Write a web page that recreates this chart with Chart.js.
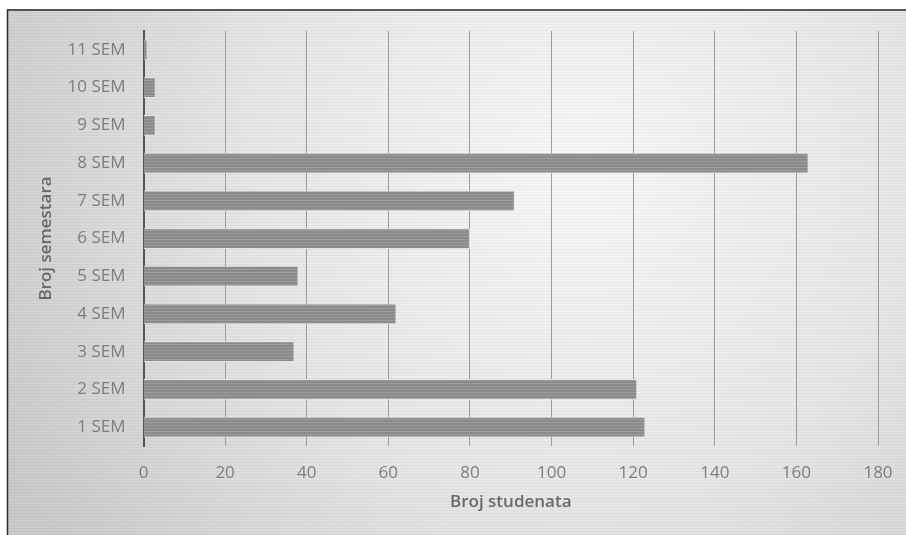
<!DOCTYPE html>
<html>
<head>
<meta charset="utf-8">
<script src="https://cdn.jsdelivr.net/npm/chart.js@4"></script>
<style>
  html, body { margin: 0; padding: 0; background: #fff; }
  #wrap { width: 906px; height: 535px; position: relative; }
</style>
</head>
<body>
<div id="wrap"><canvas id="barChart" width="906" height="535"></canvas></div>
<script>
// data
const semestri = ['1 SEM', '2 SEM', '3 SEM', '4 SEM', '5 SEM', '6 SEM', '7 SEM', '8 SEM', '9 SEM', '10 SEM', '11 SEM'];
const brojStudenata = [123, 121, 37, 62, 38, 80, 91, 163, 3, 3, 1];
const xTicks = [0, 20, 40, 60, 80, 100, 120, 140, 160, 180];

// striped grey fill for the bars (scanned look)
function stripePattern() {
  const c = document.createElement('canvas');
  c.width = 4; c.height = 3;
  const g = c.getContext('2d');
  g.fillStyle = '#8b8b8b';
  g.fillRect(0, 0, 4, 3);
  g.fillStyle = '#9b9b9b';
  g.fillRect(0, 2, 4, 1);
  return g.createPattern(c, 'repeat');
}

// background gradient + frame
const backdrop = {
  id: 'backdrop',
  beforeDraw(chart) {
    const ctx = chart.ctx;
    const w = chart.width, h = chart.height;
    ctx.save();
    const grd = ctx.createRadialGradient(580, 170, 20, 580, 170, 640);
    grd.addColorStop(0, '#f7f7f7');
    grd.addColorStop(0.5, '#e7e7e7');
    grd.addColorStop(1, '#cbcbcb');
    ctx.fillStyle = grd;
    ctx.fillRect(0, 0, w, h);
    ctx.fillStyle = 'rgba(0,0,0,0.035)';
    for (let y = 0; y < h; y += 3) ctx.fillRect(0, y, w, 1);
    ctx.fillStyle = '#ffffff';
    ctx.fillRect(0, 0, w, 9);
    ctx.fillRect(0, 0, 7, h);
    ctx.strokeStyle = '#2b2b2b';
    ctx.lineWidth = 1.5;
    ctx.beginPath();
    ctx.moveTo(7.5, h);
    ctx.lineTo(7.5, 10);
    ctx.lineTo(w, 10);
    ctx.stroke();
    ctx.restore();
  }
};

const ctxEl = document.getElementById('barChart');
new Chart(ctxEl, {
  type: 'bar',
  data: {
    labels: semestri,
    datasets: [{
      data: brojStudenata,
      backgroundColor: stripePattern(),
      borderColor: '#e4e4e4',
      borderWidth: 1,
      barPercentage: 0.55,
      categoryPercentage: 1
    }]
  },
  options: {
    indexAxis: 'y',
    responsive: false,
    animation: false,
    layout: { padding: { left: 20, right: 28, top: 31, bottom: 20 } },
    plugins: {
      legend: { display: false },
      tooltip: { enabled: false }
    },
    scales: {
      x: {
        min: 0,
        max: 180,
        afterBuildTicks(scale) {
          scale.ticks = xTicks.map(v => ({ value: v }));
        },
        afterFit(scale) {
          scale.height = 69;
          scale.paddingLeft = 0;
          scale.paddingRight = 0;
        },
        grid: { color: '#9c9c9c', lineWidth: 1, drawTicks: false },
        border: { display: false },
        ticks: {
          color: '#7d7d7d',
          padding: 17,
          font: { family: 'Open Sans', size: 17 }
        },
        title: {
          display: true,
          text: 'Broj studenata',
          color: '#686868',
          padding: { top: 0, bottom: 3 },
          font: { family: 'Open Sans', size: 17, weight: '600' }
        }
      },
      y: {
        reverse: true,
        afterFit(scale) {
          scale.width = 123.5;
        },
        grid: { display: false, drawTicks: false },
        border: { display: true, color: '#555555', width: 2 },
        ticks: {
          color: '#7d7d7d',
          padding: 18,
          font: { family: 'Open Sans', size: 17 }
        },
        title: {
          display: true,
          text: 'Broj semestara',
          color: '#686868',
          padding: { top: 16, bottom: 0 },
          font: { family: 'Open Sans', size: 17, weight: '600' }
        }
      }
    }
  },
  plugins: [backdrop]
});
</script>
</body>
</html>
